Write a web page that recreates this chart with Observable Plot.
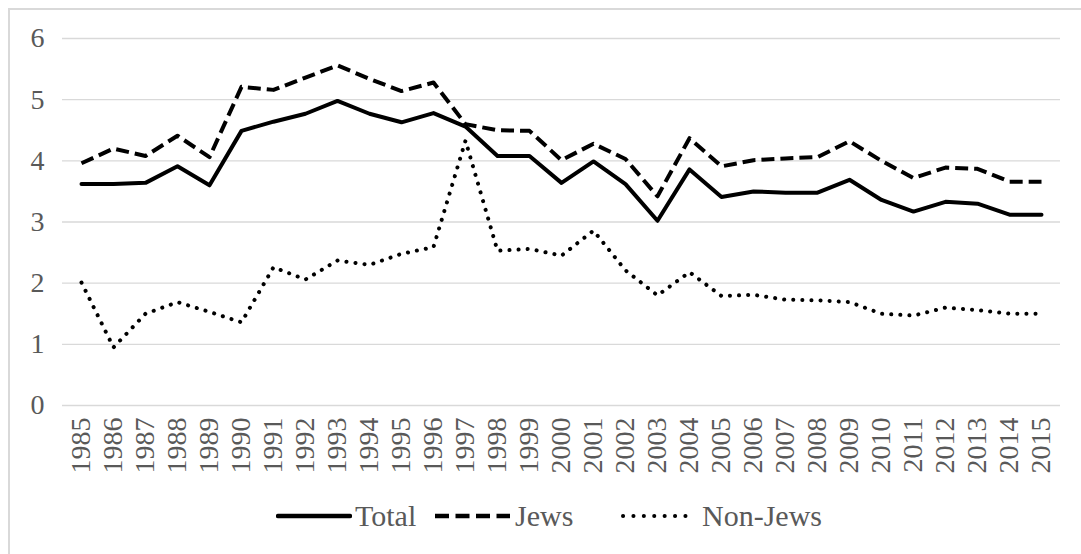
<!DOCTYPE html>
<html>
<head>
<meta charset="utf-8">
<script src="https://cdn.jsdelivr.net/npm/d3@7"></script>
<script src="https://cdn.jsdelivr.net/npm/@observablehq/plot@0.6"></script>
<style>
  html, body { margin: 0; padding: 0; background: #fff; overflow: hidden; }
  body { width: 1081px; height: 554px; position: relative; font-family: "Liberation Serif", "Times New Roman", serif; }
  #frame { position: absolute; left: 8px; top: 8px; width: 1200px; height: 700px; border-left: 2px solid #d9d9d9; border-top: 2px solid #d9d9d9; }
  #chart { position: absolute; left: 0; top: 0; }
  #chart svg, #chart svg text { font-family: "Liberation Serif", "Times New Roman", serif !important; }
  #legend { position: absolute; left: 0; top: 0; width: 1081px; height: 554px; font-size: 30px; color: #595959; white-space: nowrap; }
  #legend .item { position: absolute; top: 498px; height: 36px; display: flex; align-items: center; }
  #legend svg { display: block; }
</style>
</head>
<body>
<div id="frame"></div>
<div id="chart"></div>
<div id="legend"></div>
<script>
const years = [1985,1986,1987,1988,1989,1990,1991,1992,1993,1994,1995,1996,1997,1998,1999,2000,2001,2002,2003,2004,2005,2006,2007,2008,2009,2010,2011,2012,2013,2014,2015];
const total = [3.62,3.62,3.64,3.91,3.60,4.49,4.64,4.77,4.98,4.77,4.63,4.78,4.56,4.08,4.08,3.64,3.99,3.62,3.02,3.86,3.41,3.50,3.48,3.48,3.69,3.36,3.17,3.33,3.30,3.12,3.12];
const jews = [3.96,4.20,4.08,4.41,4.06,5.21,5.16,5.36,5.56,5.34,5.14,5.28,4.60,4.50,4.49,4.01,4.28,4.03,3.42,4.37,3.91,4.01,4.04,4.06,4.32,4.00,3.72,3.89,3.87,3.66,3.66];
const nonJews = [2.01,0.95,1.50,1.69,1.53,1.36,2.26,2.06,2.37,2.30,2.48,2.59,4.33,2.53,2.56,2.45,2.86,2.21,1.80,2.18,1.79,1.81,1.73,1.72,1.69,1.50,1.47,1.60,1.56,1.50,1.50];
const seriesNames = ["Total", "Jews", "Non-Jews"];
const yTicks = [0,1,2,3,4,5,6];
const font = '"Liberation Serif", "Times New Roman", serif';

const styles = {
  "Total": {dash: null, cap: "round", legendDash: null, legendLeft: 278, legendLen: 72},
  "Jews": {dash: "13 6", cap: "butt", legendDash: "14 6.5", legendLeft: 435, legendLen: 75},
  "Non-Jews": {dash: "0.1 9", cap: "round", legendDash: "0.1 10.3", legendLeft: 623, legendLen: 65}
};

const rows = [];
const seriesVals = [total, jews, nonJews];
seriesNames.forEach((s, i) => years.forEach((y, j) => rows.push({series: s, year: String(y), value: seriesVals[i][j]})));

const chart = Plot.plot({
  width: 1081,
  height: 480,
  marginLeft: 62,
  marginRight: 21,
  marginTop: 38,
  marginBottom: 75,
  style: {fontFamily: font, background: "transparent", overflow: "visible"},
  x: {type: "point", domain: years.map(String), padding: 0.5},
  y: {domain: [0, 6]},
  marks: [
    Plot.gridY(yTicks, {stroke: "#d9d9d9", strokeOpacity: 1, strokeWidth: 1.3}),
    Plot.axisY(yTicks, {tickSize: 0, tickPadding: 18, fontSize: 28, fontFamily: font, fill: "#595959", label: null, tickFormat: d3.format("d")}),
    Plot.axisX({tickSize: 0, tickPadding: 12, tickRotate: -90, fontSize: 28, fontFamily: font, fill: "#595959", label: null}),
    ...seriesNames.map(s => Plot.line(rows.filter(d => d.series === s), {
      x: "year", y: "value", stroke: "#000", strokeWidth: 4,
      strokeDasharray: styles[s].dash, strokeLinecap: styles[s].cap, strokeLinejoin: "round"
    }))
  ]
});
document.getElementById("chart").appendChild(chart);

const legend = document.getElementById("legend");
seriesNames.forEach(s => {
  const st = styles[s];
  const item = document.createElement("div");
  item.className = "item";
  item.style.left = (st.legendLeft - 2) + "px";
  const ns = "http://www.w3.org/2000/svg";
  const svg = document.createElementNS(ns, "svg");
  svg.setAttribute("width", st.legendLen + 4);
  svg.setAttribute("height", 12);
  const ln = document.createElementNS(ns, "line");
  ln.setAttribute("x1", 2); ln.setAttribute("x2", st.legendLen + 2);
  ln.setAttribute("y1", 6); ln.setAttribute("y2", 6);
  ln.setAttribute("stroke", "#000");
  ln.setAttribute("stroke-width", s === "Non-Jews" ? 4 : 4.5);
  if (st.legendDash) ln.setAttribute("stroke-dasharray", st.legendDash);
  ln.setAttribute("stroke-linecap", st.cap);
  svg.appendChild(ln);
  item.appendChild(svg);
  const t = document.createElement("span");
  t.textContent = s;
  t.style.marginLeft = s === "Non-Jews" ? "12px" : "3px";
  item.appendChild(t);
  legend.appendChild(item);
});
</script>
</body>
</html>
